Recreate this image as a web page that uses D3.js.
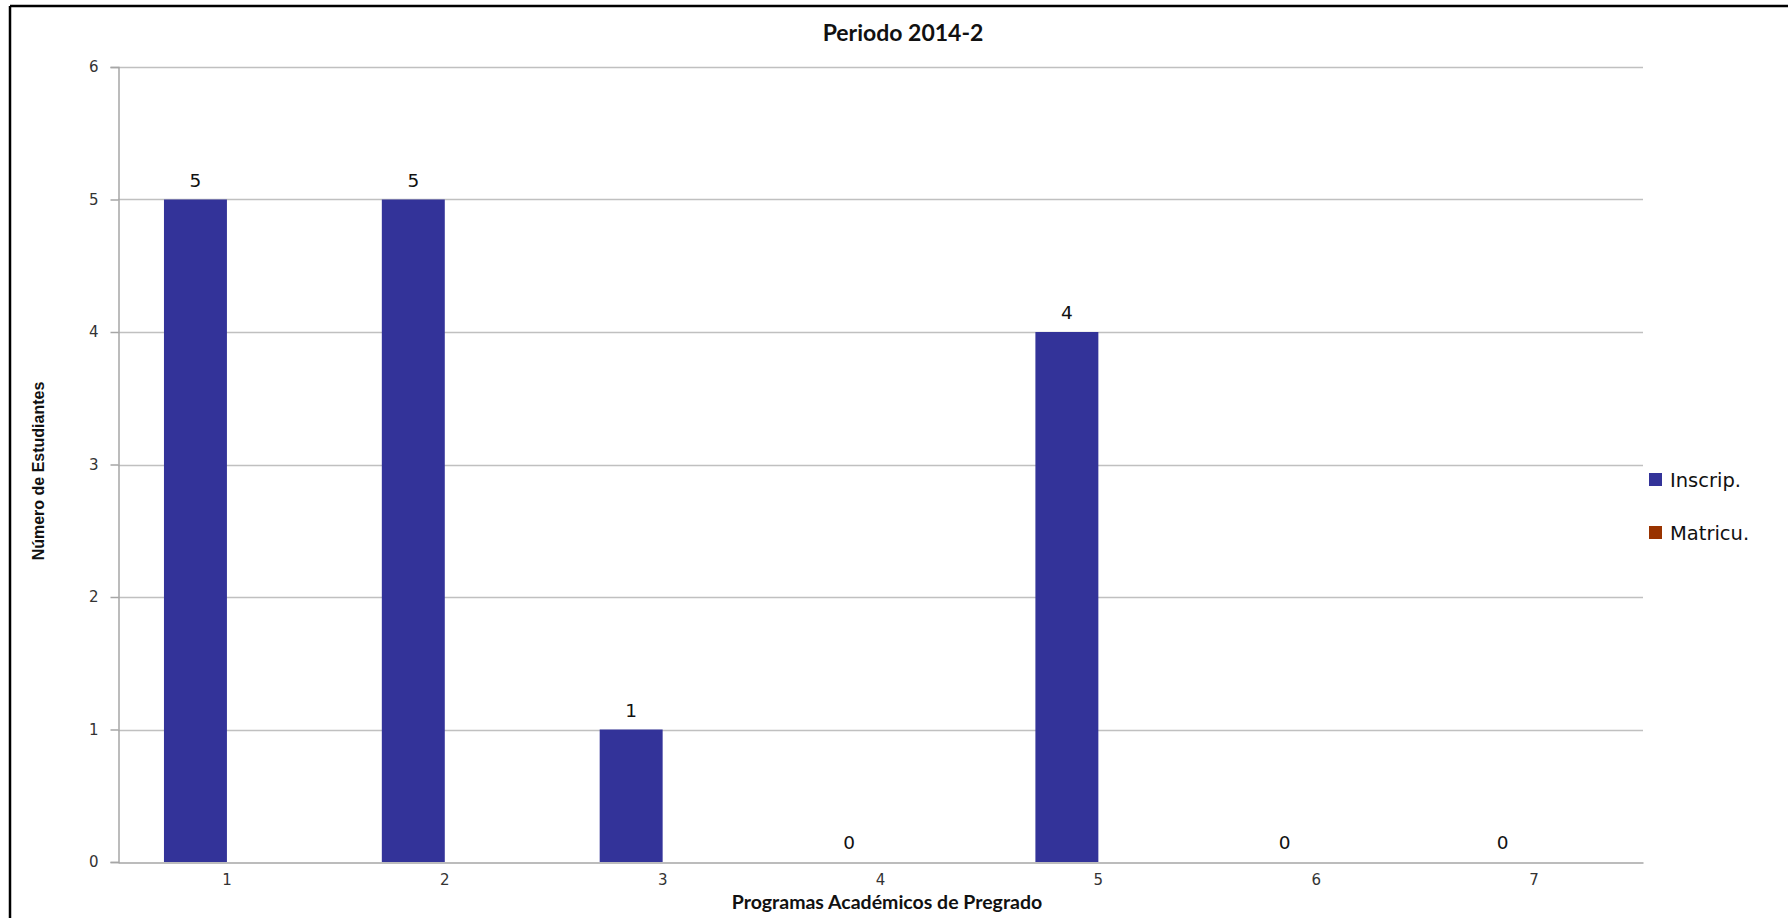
<!DOCTYPE html>
<html>
<head>
<meta charset="utf-8">
<script src="https://cdn.jsdelivr.net/npm/d3@7"></script>
<style>
html,body{margin:0;padding:0;background:#fff;}
svg{display:block;}
</style>
</head>
<body>
<svg id="chart" width="1788" height="918"></svg>
<script>
const categories = ["1","2","3","4","5","6","7"];
const inscripValues = [5,5,1,0,4,0,0];
const matricuValues = [0,0,0,0,0,0,0];
const seriesNames = ["Inscrip.","Matricu."];
const seriesColors = ["#333399","#993300"];
const yTicks = [0,1,2,3,4,5,6];
const chartTitle = "Periodo 2014-2";
const xTitle = "Programas Académicos de Pregrado";
const yTitle = "Número de Estudiantes";

const svg = d3.select("#chart");
const W = 1788, H = 918;
const m = {left:118, right:1643, top:67, bottom:862};

// outer border (left & top visible)
svg.append("line").attr("x1",10).attr("x2",10).attr("y1",6).attr("y2",H)
  .attr("stroke","#000").attr("stroke-width",2.5);
svg.append("line").attr("x1",10).attr("x2",W).attr("y1",6).attr("y2",6)
  .attr("stroke","#000").attr("stroke-width",2.5);

const x0 = d3.scaleBand().domain(categories).range([m.left,m.right]).paddingInner(0).paddingOuter(0);
const x1 = d3.scaleBand().domain(seriesNames).range([0,x0.bandwidth()]).paddingInner(0).paddingOuter(0.73);
const y = d3.scaleLinear().domain([0,6]).range([m.bottom,m.top]);

// gridlines
svg.append("g").selectAll("line").data(yTicks.filter(d=>d>0)).join("line")
  .attr("x1",m.left).attr("x2",m.right)
  .attr("y1",d=>Math.round(y(d))+0.5).attr("y2",d=>Math.round(y(d))+0.5)
  .attr("stroke","#c0c0c0").attr("stroke-width",1.5);

// y axis
const yAxis = d3.axisLeft(y).tickValues(yTicks).tickSize(8).tickPadding(12).tickFormat(d3.format("d"));
const gy = svg.append("g").attr("transform",`translate(${m.left+0.5},0)`).call(yAxis);
gy.select(".domain").attr("stroke","#a6a6a6").attr("stroke-width",1.5);
gy.selectAll(".tick line").attr("stroke","#a6a6a6").attr("stroke-width",1.5);
gy.selectAll(".tick text").attr("font-family","DejaVu Sans, Verdana, sans-serif").attr("font-size",15).attr("fill","#333");

// x axis
const xAxis = d3.axisBottom(x0).tickSize(0).tickPadding(12);
const gx = svg.append("g").attr("transform",`translate(0,${m.bottom+0.5})`).call(xAxis);
gx.select(".domain").attr("stroke","#a6a6a6").attr("stroke-width",1.5);
gx.selectAll(".tick text").attr("font-family","DejaVu Sans, Verdana, sans-serif").attr("font-size",15).attr("fill","#333");

// bars
const rows = categories.map((c,i)=>({cat:c, vals:[inscripValues[i], matricuValues[i]]}));
const groups = svg.append("g").selectAll("g").data(rows).join("g")
  .attr("transform",d=>`translate(${x0(d.cat)},0)`);
groups.selectAll("rect").data(d=>d.vals.map((v,j)=>({v,s:seriesNames[j],c:seriesColors[j]}))).join("rect")
  .attr("x",d=>x1(d.s)).attr("width",x1.bandwidth())
  .attr("y",d=>y(d.v)).attr("height",d=>y(0)-y(d.v))
  .attr("fill",d=>d.c);

// value labels (Inscrip. series)
svg.append("g").selectAll("text").data(rows).join("text")
  .attr("x",d=>x0(d.cat)+x1("Inscrip.")+x1.bandwidth()/2)
  .attr("y",d=>y(d.vals[0])-13)
  .attr("text-anchor","middle")
  .attr("font-family","DejaVu Sans, Verdana, sans-serif").attr("font-size",18.5).attr("fill","#111")
  .text(d=>d.vals[0]);

// title
svg.append("text").attr("x",903).attr("y",41).attr("text-anchor","middle")
  .attr("font-family","Lato, 'Open Sans', sans-serif").attr("font-weight","bold").attr("font-size",23).attr("fill","#111")
  .text(chartTitle);

// x title
svg.append("text").attr("x",887).attr("y",909).attr("text-anchor","middle")
  .attr("font-family","Lato, 'Open Sans', sans-serif").attr("font-weight","bold").attr("font-size",19.5).attr("fill","#111")
  .text(xTitle);

// y title
svg.append("text").attr("transform","translate(44,471) rotate(-90)").attr("text-anchor","middle")
  .attr("font-family","'Liberation Sans Narrow', 'Arial Narrow', sans-serif").attr("font-weight","bold").attr("font-size",16).attr("fill","#111")
  .text(yTitle);

// legend
const lg = svg.append("g").selectAll("g").data(seriesNames).join("g")
  .attr("transform",(d,i)=>`translate(1649,${473+i*53})`);
lg.append("rect").attr("width",13).attr("height",13).attr("fill",(d,i)=>seriesColors[i]);
lg.append("text").attr("x",21).attr("y",14).attr("font-family","DejaVu Sans, Verdana, sans-serif").attr("font-size",19.5).attr("fill","#111").text(d=>d);
</script>
</body>
</html>
